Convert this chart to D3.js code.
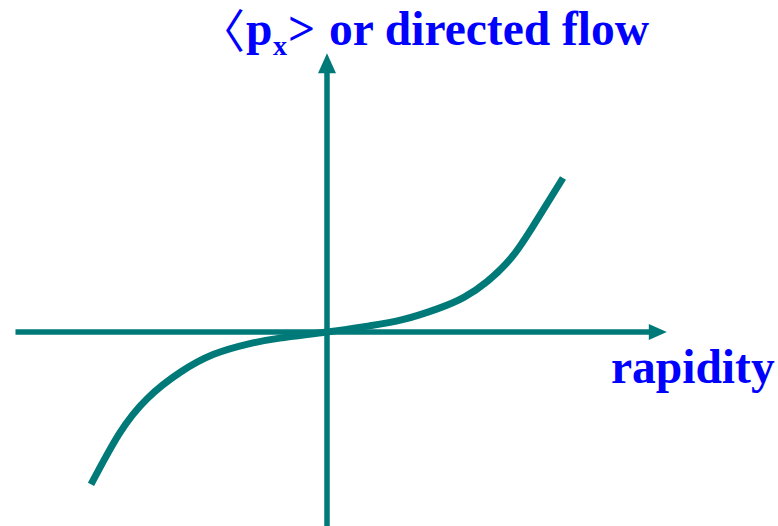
<!DOCTYPE html>
<html>
<head>
<meta charset="utf-8">
<script src="https://cdn.jsdelivr.net/npm/d3@7"></script>
<style>
html,body{margin:0;padding:0;background:#fff;}
svg{display:block;}
</style>
</head>
<body>
<svg id="chart" width="778" height="526"></svg>
<script>
// rapidity (normalised) and <px> (normalised)
const rapidity = [-1.00,-0.88,-0.76,-0.62,-0.48,-0.34,-0.20,0.00,0.18,0.32,0.47,0.58,0.68,0.78,0.87,1.00];
const flow     = [-0.99,-0.66,-0.43,-0.26,-0.145,-0.08,-0.04,0.00,0.04,0.08,0.152,0.225,0.33,0.48,0.68,1.00];
const xAxisExtent = [-1.32, 1.44];
const yAxisExtent = [-1.27, 1.81];
const yTitle = "or directed flow";
const xTitle = "rapidity";

const teal = "#007a78", blue = "#0000ff";
const svg = d3.select("#chart");
const x = d3.scaleLinear().domain([-1, 1]).range([91, 563]);
const y = d3.scaleLinear().domain([-1, 1]).range([486, 178]);

// axes
const ax = svg.append("g").attr("fill", teal).attr("stroke", teal);
const xTip = x(xAxisExtent[1]);
ax.append("line").attr("x1", x(xAxisExtent[0])).attr("x2", xTip - 14)
  .attr("y1", y(0)).attr("y2", y(0)).attr("stroke-width", 5.5);
ax.append("path").attr("stroke", "none")
  .attr("d", `M${xTip},${y(0)} L${xTip-18},${y(0)-8} L${xTip-18},${y(0)+8} Z`);
const yTip = y(yAxisExtent[1]);
ax.append("line").attr("x1", x(0)).attr("x2", x(0))
  .attr("y1", y(yAxisExtent[0])).attr("y2", yTip + 14).attr("stroke-width", 5.5);
ax.append("path").attr("stroke", "none")
  .attr("d", `M${x(0)},${yTip} L${x(0)-9},${yTip+20} L${x(0)+9},${yTip+20} Z`);

// curve
const pts = rapidity.map((r, i) => [r, flow[i]]);
svg.append("path").datum(pts)
  .attr("fill", "none").attr("stroke", teal).attr("stroke-width", 7)
  .attr("d", d3.line().x(d => x(d[0])).y(d => y(d[1])).curve(d3.curveNatural));

// titles
const serif = "'Liberation Serif','Times New Roman',serif";
const t = svg.append("text").attr("y", 45).attr("fill", blue)
  .attr("font-family", serif).attr("font-weight", "bold").attr("font-size", 47.5);
t.append("tspan").attr("x", 199).attr("font-weight", "normal").attr("font-family", "'Noto Sans CJK SC',sans-serif").attr("font-size", 46).attr("dy", 2).text("\u3008");
t.append("tspan").attr("x", 246).attr("dy", -2).text("p");
t.append("tspan").attr("x", 273).attr("font-size", 28).attr("dy", 10).text("x");
t.append("tspan").attr("x", 288).attr("dy", -10).text(">");
t.append("tspan").attr("x", 329).text(yTitle);

svg.append("text").attr("x", 611).attr("y", 383).attr("fill", blue)
  .attr("font-family", serif).attr("font-weight", "bold").attr("font-size", 47.5)
  .text(xTitle);
</script>
</body>
</html>
